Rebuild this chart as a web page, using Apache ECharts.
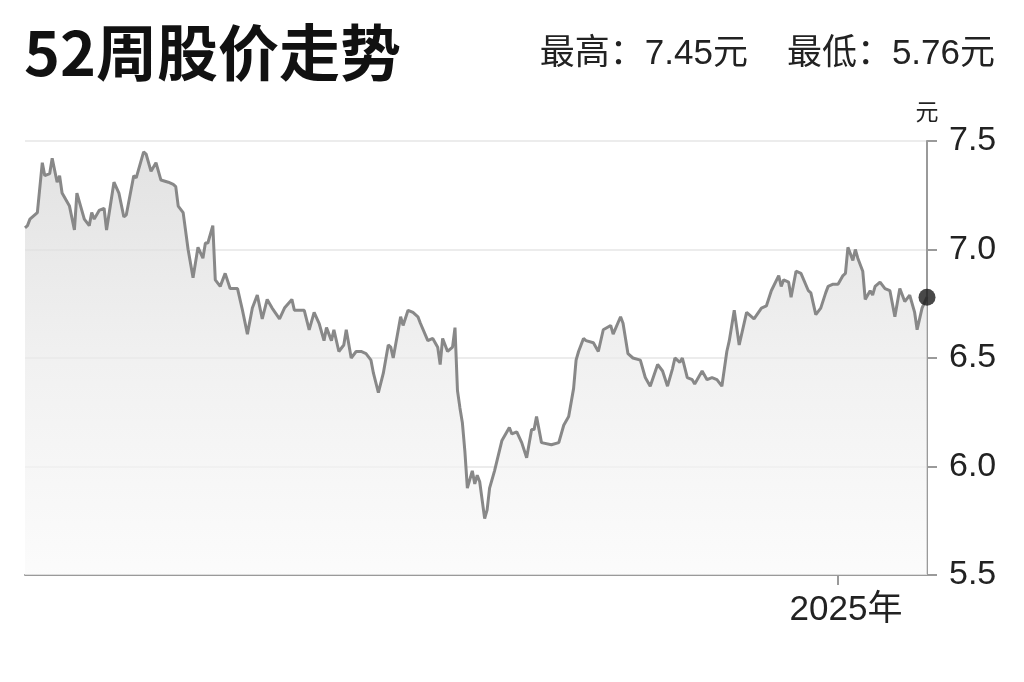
<!DOCTYPE html>
<html>
<head>
<meta charset="utf-8">
<script src="https://cdn.jsdelivr.net/npm/echarts@6/dist/echarts.min.js"></script>
<style>
html,body{margin:0;padding:0;background:#fff;}
#chart{width:1024px;height:682px;}
</style>
</head>
<body>
<div id="chart"></div>
<script>
// ---- data ----
const dates = [
'2024-02-07','2024-02-08','2024-02-09','2024-02-12','2024-02-14','2024-02-15','2024-02-17','2024-02-18','2024-02-20','2024-02-21',
'2024-02-22','2024-02-25','2024-02-27','2024-02-28','2024-03-02','2024-03-04','2024-03-05','2024-03-06','2024-03-08','2024-03-10',
'2024-03-11','2024-03-14','2024-03-16','2024-03-18','2024-03-19','2024-03-22','2024-03-23','2024-03-26','2024-03-27','2024-03-29',
'2024-03-31','2024-04-02','2024-04-05','2024-04-07','2024-04-08','2024-04-09','2024-04-11','2024-04-13','2024-04-15','2024-04-17',
'2024-04-19','2024-04-20','2024-04-21','2024-04-23','2024-04-24','2024-04-26','2024-04-28','2024-04-30','2024-05-03','2024-05-05',
'2024-05-07','2024-05-09','2024-05-11','2024-05-13','2024-05-15','2024-05-17','2024-05-20','2024-05-22','2024-05-25','2024-05-26',
'2024-05-30','2024-06-01','2024-06-03','2024-06-05','2024-06-07','2024-06-08','2024-06-10','2024-06-11','2024-06-13','2024-06-15',
'2024-06-16','2024-06-18','2024-06-20','2024-06-22','2024-06-24','2024-06-26','2024-06-27','2024-06-29','2024-07-01','2024-07-03',
'2024-07-04','2024-07-05','2024-07-08','2024-07-09','2024-07-11','2024-07-13','2024-07-15','2024-07-16','2024-07-19','2024-07-21',
'2024-07-23','2024-07-24','2024-07-25','2024-07-27','2024-07-29','2024-07-30','2024-07-31','2024-08-01','2024-08-02','2024-08-03',
'2024-08-04','2024-08-06','2024-08-07','2024-08-08','2024-08-09','2024-08-11','2024-08-12','2024-08-13','2024-08-15','2024-08-18',
'2024-08-21','2024-08-22','2024-08-24','2024-08-26','2024-08-28','2024-08-30','2024-08-31','2024-09-01','2024-09-03','2024-09-07',
'2024-09-10','2024-09-12','2024-09-14','2024-09-16','2024-09-17','2024-09-18','2024-09-20','2024-09-21','2024-09-24','2024-09-26',
'2024-09-28','2024-10-01','2024-10-02','2024-10-05','2024-10-06','2024-10-08','2024-10-10','2024-10-13','2024-10-15','2024-10-17',
'2024-10-20','2024-10-22','2024-10-24','2024-10-26','2024-10-27','2024-10-29','2024-10-30','2024-11-01','2024-11-03','2024-11-04',
'2024-11-07','2024-11-09','2024-11-11','2024-11-13','2024-11-15','2024-11-17','2024-11-18','2024-11-20','2024-11-22','2024-11-25',
'2024-11-28','2024-12-01','2024-12-03','2024-12-05','2024-12-08','2024-12-09','2024-12-10','2024-12-12','2024-12-13','2024-12-15',
'2024-12-17','2024-12-20','2024-12-21','2024-12-23','2024-12-25','2024-12-27','2024-12-28','2024-12-30','2025-01-01','2025-01-03',
'2025-01-04','2025-01-05','2025-01-07','2025-01-08','2025-01-09','2025-01-11','2025-01-12','2025-01-14','2025-01-15','2025-01-16',
'2025-01-18','2025-01-20','2025-01-22','2025-01-24','2025-01-26','2025-01-28','2025-01-30','2025-02-01','2025-02-02','2025-02-04',
'2025-02-06'
];
const prices = [
7.10,7.11,7.14,7.17,7.40,7.34,7.35,7.42,7.31,7.34,
7.26,7.20,7.09,7.26,7.14,7.11,7.17,7.14,7.18,7.19,
7.09,7.31,7.26,7.15,7.16,7.34,7.33,7.45,7.44,7.36,
7.40,7.32,7.31,7.30,7.29,7.20,7.17,7.00,6.87,7.01,
6.96,7.03,7.03,7.11,6.86,6.83,6.89,6.82,6.82,6.72,
6.61,6.73,6.79,6.68,6.77,6.73,6.68,6.73,6.77,6.72,
6.72,6.63,6.71,6.66,6.58,6.64,6.58,6.63,6.53,6.56,
6.63,6.50,6.53,6.53,6.52,6.49,6.43,6.34,6.43,6.56,
6.55,6.50,6.69,6.65,6.72,6.71,6.69,6.66,6.58,6.59,
6.55,6.47,6.59,6.53,6.55,6.64,6.35,6.27,6.20,6.07,
5.90,5.98,5.92,5.96,5.93,5.76,5.80,5.90,5.98,6.12,
6.18,6.15,6.16,6.11,6.04,6.17,6.17,6.23,6.11,6.10,
6.11,6.19,6.23,6.36,6.49,6.53,6.59,6.58,6.57,6.53,
6.63,6.65,6.61,6.69,6.66,6.52,6.50,6.49,6.41,6.37,
6.47,6.44,6.37,6.45,6.50,6.48,6.50,6.41,6.40,6.38,
6.44,6.40,6.41,6.40,6.37,6.53,6.58,6.72,6.56,6.71,
6.68,6.73,6.74,6.81,6.88,6.83,6.86,6.85,6.78,6.90,
6.89,6.81,6.80,6.70,6.73,6.80,6.83,6.84,6.84,6.88,
6.89,7.01,6.95,7.00,6.96,6.90,6.77,6.81,6.79,6.83,
6.85,6.82,6.81,6.69,6.82,6.76,6.79,6.71,6.63,6.73,
6.78
];
const yTicks = [5.5, 6.0, 6.5, 7.0, 7.5];
const xTickDates = ['2025-01-01'];
const xTickLabels = ['2025年'];
const rangeStart = '2024-02-07';
const rangeEnd = '2025-02-06';
const titleText = '52周股价走势';
const unitText = '元';

// ---- chart ----
const toTs = d => +echarts.time.parse(d);
const hi = Math.max(...prices);
const lo = Math.min(...prices);
const seriesData = dates.map((d, i) => [toTs(d), prices[i]]);
const last = seriesData[seriesData.length - 1];
const tickTs = xTickDates.map(toTs);

const chart = echarts.init(document.getElementById('chart'), null, {renderer: 'canvas'});
const numFont = '"Liberation Sans", Arial, "Noto Sans CJK SC", sans-serif';
chart.setOption({
  backgroundColor: '#ffffff',
  animation: false,
  title: [{
    text: titleText,
    left: 19, top: 17,
    textStyle: {fontFamily: '"Noto Sans CJK SC", sans-serif', fontWeight: 'bold', fontSize: 61, color: '#111'}
  }, {
    text: '最高：' + hi.toFixed(2) + unitText + '    最低：' + lo.toFixed(2) + unitText,
    right: 24, top: 32,
    textStyle: {fontFamily: numFont, fontWeight: 'normal', fontSize: 35, color: '#222'}
  }],
  grid: {left: 25, right: 97, top: 141, bottom: 107, containLabel: false},
  xAxis: {
    type: 'value',
    min: toTs(rangeStart), max: toTs(rangeEnd),
    axisLine: {show: true, onZero: false, lineStyle: {color: '#9a9a9a', width: 2}},
    splitLine: {show: false},
    axisTick: {show: true, customValues: tickTs, length: 10, lineStyle: {color: '#9a9a9a', width: 2}},
    axisLabel: {
      show: true, customValues: tickTs, margin: 18,
      formatter: (v) => { const i = tickTs.indexOf(+v); return i >= 0 ? xTickLabels[i] : ''; },
      fontFamily: numFont, fontSize: 35, color: '#222', padding: [0, 0, 0, 16]
    }
  },
  yAxis: {
    type: 'value',
    position: 'right',
    min: yTicks[0], max: yTicks[yTicks.length - 1], interval: 0.5,
    name: unitText, nameLocation: 'end', nameGap: 18,
    nameTextStyle: {fontFamily: '"Noto Sans CJK SC", sans-serif', fontSize: 23, color: '#222', align: 'center', verticalAlign: 'bottom'},
    axisLine: {show: true, lineStyle: {color: '#9a9a9a', width: 2}},
    axisTick: {show: true, inside: false, length: 10, lineStyle: {color: '#9a9a9a', width: 2}},
    axisLabel: {margin: 22, fontFamily: numFont, fontSize: 34, color: '#222', formatter: v => v.toFixed(1)},
    splitLine: {show: true, lineStyle: {color: '#ececec', width: 2}}
  },
  series: [{
    type: 'line',
    data: seriesData,
    showSymbol: false,
    symbol: 'none',
    lineStyle: {color: '#888888', width: 3},
    areaStyle: {
      origin: 'start',
      color: new echarts.graphic.LinearGradient(0, 0, 0, 1, [
        {offset: 0, color: '#d6d6d6'},
        {offset: 0.5, color: '#ebebeb'},
        {offset: 1, color: '#fafafa'}
      ])
    },
    z: 2
  }, {
    type: 'scatter',
    data: [last],
    symbol: 'circle',
    symbolSize: 17,
    itemStyle: {color: '#1a1a1a'},
    z: 5
  }]
});
</script>
</body>
</html>
